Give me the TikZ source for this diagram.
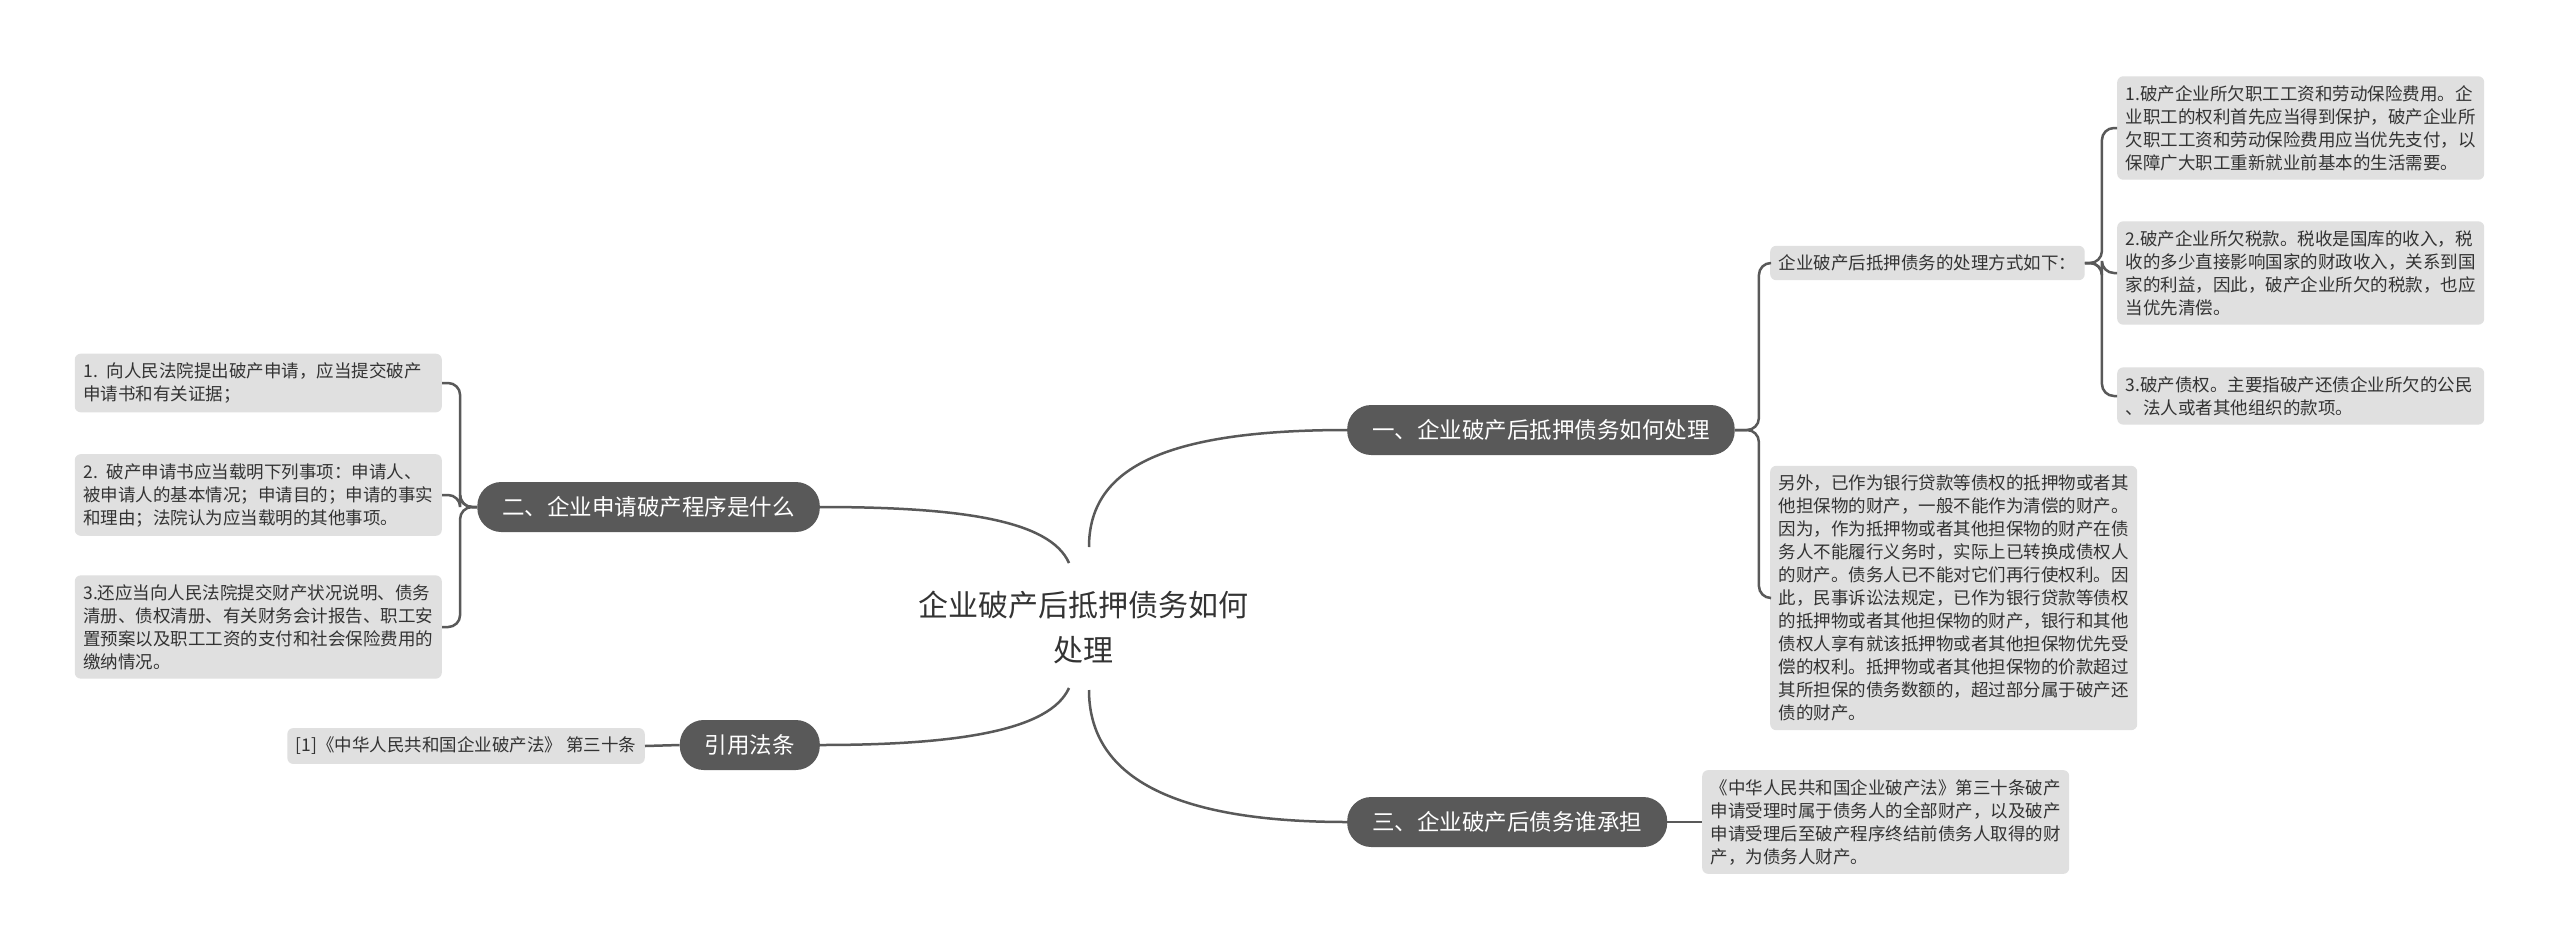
\documentclass[tikz,border=0pt]{standalone}
\usepackage{fontspec}
\setmainfont{Noto Sans CJK SC}
\definecolor{branchfill}{HTML}{595959}
\definecolor{leaffill}{HTML}{E0E0E0}
\definecolor{ink}{HTML}{333333}
\definecolor{edge}{HTML}{595959}
\begin{document}
\begin{tikzpicture}[x=1bp,y=-1bp,
  leafbox/.style={fill=leaffill, rounded corners=6bp, inner xsep=8.5bp, inner ysep=9bp, align=left, text=ink, font=\fontsize{17.5bp}{23bp}\selectfont},
  wideleaf/.style={leafbox, text width=350bp},
  branchbox/.style={fill=branchfill, rounded corners=24bp, minimum height=50bp, inner xsep=25bp, inner ysep=0bp, text=white, font=\fontsize{22.5bp}{27bp}\selectfont},
  rootbox/.style={align=center, text=ink, font=\fontsize{30bp}{45bp}\selectfont},
  link/.style={draw=edge, line width=2.5bp},
  bracket/.style={link, rounded corners=12bp},
]
\useasboundingbox (0,0) rectangle (2560,951);
\fill[white] (0,0) rectangle (2560,951);

% root
\node[rootbox] (root) at (1083,627) {企业破产后抵押债务如何\\处理};

% branches
\node[branchbox, anchor=west] (b1) at (1347,430) {一、企业破产后抵押债务如何处理};
\node[branchbox, anchor=east] (b2) at (820,507) {二、企业申请破产程序是什么};
\node[branchbox, anchor=west] (b3) at (1347,822) {三、企业破产后债务谁承担};
\node[branchbox, anchor=east] (b4) at (820,745) {引用法条};

% branch 1 leaves
\node[leafbox, anchor=west] (L1) at (1770,263) {企业破产后抵押债务的处理方式如下：};
\node[wideleaf, anchor=west] (L2) at (1770,598) {另外，已作为银行贷款等债权的抵押物或者其\\他担保物的财产，一般不能作为清偿的财产。\\因为，作为抵押物或者其他担保物的财产在债\\务人不能履行义务时，实际上已转换成债权人\\的财产。债务人已不能对它们再行使权利。因\\此，民事诉讼法规定，已作为银行贷款等债权\\的抵押物或者其他担保物的财产，银行和其他\\债权人享有就该抵押物或者其他担保物优先受\\偿的权利。抵押物或者其他担保物的价款超过\\其所担保的债务数额的，超过部分属于破产还\\债的财产。};
\node[wideleaf, anchor=west] (R1) at (2117,128) {1.破产企业所欠职工工资和劳动保险费用。企\\业职工的权利首先应当得到保护，破产企业所\\欠职工工资和劳动保险费用应当优先支付，以\\保障广大职工重新就业前基本的生活需要。};
\node[wideleaf, anchor=west] (R2) at (2117,273) {2.破产企业所欠税款。税收是国库的收入，税\\收的多少直接影响国家的财政收入，关系到国\\家的利益，因此，破产企业所欠的税款，也应\\当优先清偿。};
\node[wideleaf, anchor=west] (R3) at (2117,396) {3.破产债权。主要指破产还债企业所欠的公民\\、法人或者其他组织的款项。};

% branch 3 leaf
\node[wideleaf, anchor=west] (L3) at (1702,822) {《中华人民共和国企业破产法》第三十条破产\\申请受理时属于债务人的全部财产，以及破产\\申请受理后至破产程序终结前债务人取得的财\\产，为债务人财产。};

% branch 2 leaves
\node[wideleaf, anchor=east] (LL1) at (442,383) {1. 向人民法院提出破产申请，应当提交破产\\申请书和有关证据；};
\node[wideleaf, anchor=east] (LL2) at (442,495) {2. 破产申请书应当载明下列事项：申请人、\\被申请人的基本情况；申请目的；申请的事实\\和理由；法院认为应当载明的其他事项。};
\node[wideleaf, anchor=east] (LL3) at (442,627) {3.还应当向人民法院提交财产状况说明、债务\\清册、债权清册、有关财务会计报告、职工安\\置预案以及职工工资的支付和社会保险费用的\\缴纳情况。};

% citation
\node[leafbox, anchor=east] (cite) at (645,746) {[1]《中华人民共和国企业破产法》 第三十条};

% root connectors
\coordinate (rt) at (1089,547);
\coordinate (rb) at (1089,690);
\coordinate (rl1) at (1069,563);
\coordinate (rl2) at (1069,688);
\draw[link] (rt) .. controls (1089,470) and (1160,430) .. (b1.west);
\draw[link] (rb) .. controls (1089,770) and (1160,822) .. (b3.west);
\draw[link] (b2.east) .. controls (960,507) and (1050,520) .. (rl1);
\draw[link] (b4.east) .. controls (960,745) and (1050,730) .. (rl2);

% brackets
\draw[bracket] (b1.east) -- ++(24,0) |- (L1.west);
\draw[bracket] (b1.east) -- ++(24,0) |- (L2.west);
\draw[bracket] (L1.east) -- ++(17,0) |- (R1.west);
\draw[bracket] (L1.east) -- ++(17,0) |- (R2.west);
\draw[bracket] (L1.east) -- ++(17,0) |- (R3.west);
\draw[bracket] (b2.west) -- ++(-17,0) |- (LL1.east);
\draw[bracket] (b2.west) -- ++(-17,0) |- (LL2.east);
\draw[bracket] (b2.west) -- ++(-17,0) |- (LL3.east);
\draw[link] (b3.east) -- (L3.west);
\draw[link] (b4.west) -- (cite.east);
\end{tikzpicture}
\end{document}
